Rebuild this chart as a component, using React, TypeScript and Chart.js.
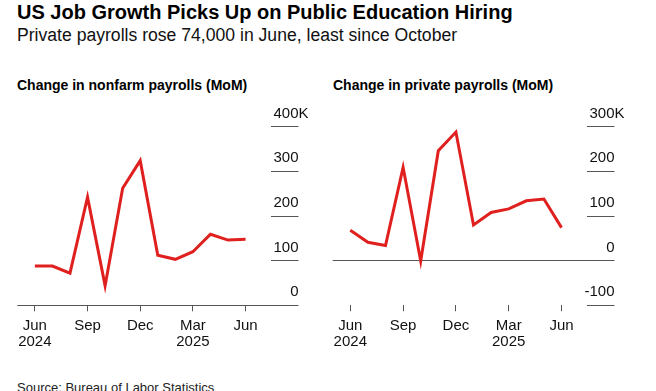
import React, { useEffect, useRef } from 'react';
import { Chart, registerables } from 'chart.js';

Chart.register(...registerables);

const FONT = "'Liberation Sans', Arial, Helvetica, sans-serif";
const RED = '#e0201f';
const GRID = '#555555';
const TEXT = '#111111';

// Months Jun 2024 .. Jun 2025
const months = [
  'Jun 2024', 'Jul 2024', 'Aug 2024', 'Sep 2024', 'Oct 2024', 'Nov 2024', 'Dec 2024',
  'Jan 2025', 'Feb 2025', 'Mar 2025', 'Apr 2025', 'May 2025', 'Jun 2025',
];
// Change in nonfarm payrolls, thousands
const nonfarm = [88, 88, 72, 242, 44, 262, 324, 112, 103, 120, 159, 146, 148];
// Change in private payrolls, thousands
const privatePayrolls = [68, 41, 34, 209, -1, 246, 288, 80, 108, 116, 134, 138, 74];

const xTickIndex = [0, 3, 6, 9, 12];
const xTickLabels = [['Jun', '2024'], ['Sep'], ['Dec'], ['Mar', '2025'], ['Jun']];
const nonfarmTicks = [0, 100, 200, 300, 400];
const privateTicks = [-100, 0, 100, 200, 300];

const X_MIN = -1;
const X_MAX = 13.42;

function makeConfig(values: number[], yTicks: number[], pad: any): any {
  const yMin = yTicks[0];
  const yMax = yTicks[yTicks.length - 1];
  const font = { family: FONT, size: 15, lineHeight: 1.1 };
  const setYTicks = (s: any) => {
    s.ticks = yTicks.map((v) => ({ value: v }));
  };
  return {
    type: 'line',
    data: {
      labels: months,
      datasets: [
        {
          data: values.map((v, i) => ({ x: i, y: v })),
          borderColor: RED,
          borderWidth: 3,
          pointRadius: 0,
          tension: 0,
          fill: false,
          borderJoinStyle: 'miter',
          borderCapStyle: 'butt',
          clip: false,
        },
      ],
    },
    options: {
      animation: false,
      responsive: false,
      events: [],
      layout: { padding: pad },
      plugins: { legend: { display: false }, tooltip: { enabled: false }, title: { display: false } },
      scales: {
        x: {
          type: 'linear',
          position: 'bottom',
          min: X_MIN,
          max: X_MAX,
          afterBuildTicks: (s: any) => {
            s.ticks = xTickIndex.map((v) => ({ value: v }));
          },
          afterFit: (s: any) => {
            s.height = 45;
            s.paddingLeft = 0;
            s.paddingRight = 0;
          },
          ticks: {
            autoSkip: false,
            maxRotation: 0,
            minRotation: 0,
            padding: 6,
            color: TEXT,
            font,
            callback: (v: any) => {
              const k = xTickIndex.indexOf(v);
              return k >= 0 ? xTickLabels[k] : '';
            },
          },
          grid: {
            drawOnChartArea: false,
            drawTicks: true,
            tickLength: 6,
            tickColor: GRID,
            tickWidth: 1,
          },
          border: { display: false },
        },
        y: {
          type: 'linear',
          position: 'right',
          min: yMin,
          max: yMax,
          afterBuildTicks: setYTicks,
          afterFit: (s: any) => {
            s.width = 28;
            s.paddingTop = 0;
            s.paddingBottom = 0;
          },
          ticks: {
            mirror: true,
            padding: 28,
            labelOffset: -13,
            crossAlign: 'near',
            color: TEXT,
            font,
            callback: (v: any) => String(v),
          },
          grid: {
            drawOnChartArea: true,
            drawTicks: true,
            tickLength: 28,
            lineWidth: 1,
            tickWidth: 1,
            tickColor: GRID,
            color: (ctx: any) => (ctx.tick && ctx.tick.value === 0 ? GRID : 'rgba(0,0,0,0)'),
          },
          border: { display: false },
        },
        yK: {
          type: 'linear',
          position: 'right',
          weight: 1,
          min: yMin,
          max: yMax,
          afterBuildTicks: setYTicks,
          afterFit: (s: any) => {
            s.width = 12;
            s.paddingTop = 0;
            s.paddingBottom = 0;
          },
          ticks: {
            padding: 0,
            labelOffset: -13,
            crossAlign: 'near',
            color: TEXT,
            font,
            callback: (v: any) => (v === yMax ? 'K' : ''),
          },
          grid: { display: false, drawTicks: false },
          border: { display: false },
        },
      },
    },
  };
}

function LineChart(props: { values: number[]; ticks: number[]; pad: any; left: number; width: number }) {
  const ref = useRef<HTMLCanvasElement | null>(null);
  useEffect(() => {
    if (!ref.current) return;
    const chart = new Chart(ref.current, makeConfig(props.values, props.ticks, props.pad));
    return () => chart.destroy();
  }, []);
  return (
    <canvas
      ref={ref}
      width={props.width}
      height={260}
      style={{ position: 'absolute', left: props.left, top: 100, width: props.width, height: 260 }}
    />
  );
}

const textBase: React.CSSProperties = {
  position: 'absolute',
  fontFamily: FONT,
  color: '#000',
  whiteSpace: 'nowrap',
  margin: 0,
};

export default function App() {
  return (
    <div
      style={{
        position: 'fixed',
        left: 0,
        top: 0,
        width: 656,
        height: 391,
        background: '#fff',
        overflow: 'hidden',
      }}
    >
      <div style={{ ...textBase, left: 17, top: 2, fontSize: 20, lineHeight: '20px', fontWeight: 700 }}>
        US Job Growth Picks Up on Public Education Hiring
      </div>
      <div style={{ ...textBase, left: 17, top: 27, fontSize: 17.6, lineHeight: '17.6px', color: '#111' }}>
        Private payrolls rose 74,000 in June, least since October
      </div>
      <div style={{ ...textBase, left: 17, top: 78, fontSize: 14, lineHeight: '14px', fontWeight: 700 }}>
        Change in nonfarm payrolls (MoM)
      </div>
      <div style={{ ...textBase, left: 333, top: 78, fontSize: 14, lineHeight: '14px', fontWeight: 700 }}>
        Change in private payrolls (MoM)
      </div>
      <LineChart
        values={nonfarm}
        ticks={nonfarmTicks}
        left={0}
        width={330}
        pad={{ left: 17.3, top: 26.7, right: 19.5, bottom: 9.7 }}
      />
      <LineChart
        values={privatePayrolls}
        ticks={privateTicks}
        left={320}
        width={336}
        pad={{ left: 12.7, top: 26.7, right: 29.5, bottom: 9.7 }}
      />
      <div style={{ ...textBase, left: 17, top: 381, fontSize: 13, lineHeight: '13px', color: '#222' }}>
        Source: Bureau of Labor Statistics
      </div>
    </div>
  );
}
